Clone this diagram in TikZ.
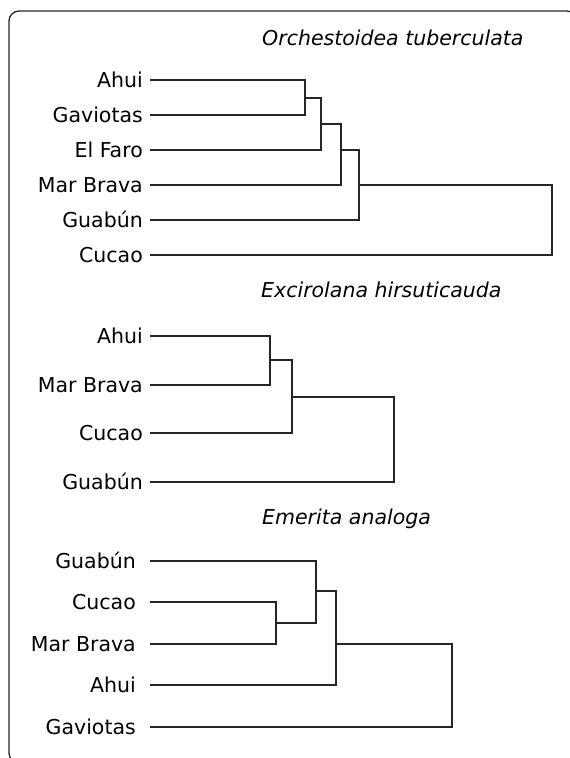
\documentclass[tikz,border=0pt]{standalone}
\usepackage{fontspec}
\setmainfont{DejaVu Sans}
\begin{document}
\begin{tikzpicture}[x=1pt,y=-1pt,
  lbl/.style={inner sep=0pt,text height=14pt,text depth=0pt,anchor=east,font=\fontsize{20.5}{24}\selectfont},
  ttl/.style={inner sep=0pt,anchor=base west,font=\fontsize{20.5}{24}\selectfont\itshape},
  br/.style={draw=black!85,line width=1.4pt},
  frm/.style={draw=black!85,line width=1.3pt,rounded corners=10pt}]
\useasboundingbox (0,0) rectangle (570,758);
\begin{scope}
\clip (0,0) rectangle (570,758);
\path[frm] (9,11) rectangle (577,763);
\end{scope}
% ---- panel 1
\node[ttl] (t1) at (262,45) {Orchestoidea tuberculata};
\node[lbl] (a1) at (143,80) {Ahui};
\node[lbl] (b1) at (143,115) {Gaviotas};
\node[lbl] (c1) at (143,150) {El Faro};
\node[lbl] (d1) at (143,185) {Mar Brava};
\node[lbl] (e1) at (143,220) {Guabún};
\node[lbl] (f1) at (143,255) {Cucao};
\coordinate (p1j1) at (305,98);
\coordinate (p1j2) at (321,124);
\coordinate (p1j3) at (341,150);
\coordinate (p1j4) at (359,185);
\coordinate (p1j5) at (552,220);
\draw[br] ([xshift=7pt]a1.east) -| (p1j1);
\draw[br] ([xshift=7pt]b1.east) -| (p1j1);
\draw[br] (p1j1) -| (p1j2);
\draw[br] ([xshift=7pt]c1.east) -| (p1j2);
\draw[br] (p1j2) -| (p1j3);
\draw[br] ([xshift=7pt]d1.east) -| (p1j3);
\draw[br] (p1j3) -| (p1j4);
\draw[br] ([xshift=7pt]e1.east) -| (p1j4);
\draw[br] (p1j4) -| (p1j5);
\draw[br] ([xshift=7pt]f1.east) -| (p1j5);
% ---- panel 2
\node[ttl] (t2) at (261,297) {Excirolana hirsuticauda};
\node[lbl] (a2) at (143,336) {Ahui};
\node[lbl] (b2) at (143,385) {Mar Brava};
\node[lbl] (c2) at (143,433) {Cucao};
\node[lbl] (d2) at (143,482) {Guabún};
\coordinate (p2j1) at (270,360);
\coordinate (p2j2) at (292,397);
\coordinate (p2j3) at (394,440);
\draw[br] ([xshift=7pt]a2.east) -| (p2j1);
\draw[br] ([xshift=7pt]b2.east) -| (p2j1);
\draw[br] (p2j1) -| (p2j2);
\draw[br] ([xshift=7pt]c2.east) -| (p2j2);
\draw[br] (p2j2) -| (p2j3);
\draw[br] ([xshift=7pt]d2.east) -| (p2j3);
% ---- panel 3
\node[ttl] (t3) at (262,524) {Emerita analoga};
\node[lbl] (a3) at (136,561) {Guabún};
\node[lbl] (b3) at (136,602) {Cucao};
\node[lbl] (c3) at (136,644) {Mar Brava};
\node[lbl] (d3) at (136,685) {Ahui};
\node[lbl] (e3) at (136,727) {Gaviotas};
\coordinate (p3j1) at (276,623);
\coordinate (p3j2) at (316,591);
\coordinate (p3j3) at (336,644);
\coordinate (p3j4) at (452,685);
\draw[br] ([xshift=14pt]b3.east) -| (p3j1);
\draw[br] ([xshift=14pt]c3.east) -| (p3j1);
\draw[br] ([xshift=14pt]a3.east) -| (p3j2);
\draw[br] (p3j1) -| (p3j2);
\draw[br] (p3j2) -| (p3j3);
\draw[br] ([xshift=14pt]d3.east) -| (p3j3);
\draw[br] (p3j3) -| (p3j4);
\draw[br] ([xshift=14pt]e3.east) -| (p3j4);
\end{tikzpicture}
\end{document}
